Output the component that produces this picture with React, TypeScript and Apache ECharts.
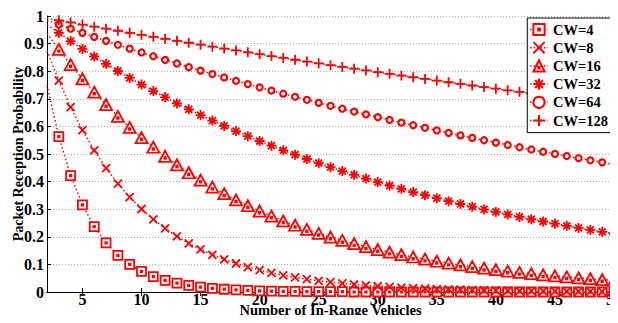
import React, { useEffect, useRef } from "react";
import * as echarts from "echarts";

const nValues: number[] = [];
for (let n = 2; n <= 50; n++) nValues.push(n);

const cw4 = [0.75, 0.563, 0.422, 0.316, 0.237, 0.178, 0.133, 0.1, 0.075, 0.056, 0.042, 0.032, 0.024, 0.018, 0.013, 0.01, 0.008, 0.006, 0.004, 0.003, 0.002, 0.002, 0.001, 0.001, 0.001, 0.001, 0, 0, 0, 0, 0, 0, 0, 0, 0, 0, 0, 0, 0, 0, 0, 0, 0, 0, 0, 0, 0, 0, 0];
const cw8 = [0.875, 0.7656, 0.6699, 0.5862, 0.5129, 0.4488, 0.3927, 0.3436, 0.3007, 0.2631, 0.2302, 0.2014, 0.1762, 0.1542, 0.1349, 0.1181, 0.1033, 0.0904, 0.0791, 0.0692, 0.0606, 0.053, 0.0464, 0.0406, 0.0355, 0.0311, 0.0272, 0.0238, 0.0208, 0.0182, 0.0159, 0.0139, 0.0122, 0.0107, 0.0093, 0.0082, 0.0072, 0.0063, 0.0055, 0.0048, 0.0042, 0.0037, 0.0032, 0.0028, 0.0025, 0.0021, 0.0019, 0.0016, 0.0014];
const cw16 = [0.9375, 0.8789, 0.824, 0.7725, 0.7242, 0.6789, 0.6365, 0.5967, 0.5594, 0.5245, 0.4917, 0.461, 0.4321, 0.4051, 0.3798, 0.3561, 0.3338, 0.313, 0.2934, 0.2751, 0.2579, 0.2418, 0.2266, 0.2125, 0.1992, 0.1867, 0.1751, 0.1641, 0.1539, 0.1443, 0.1352, 0.1268, 0.1189, 0.1114, 0.1045, 0.0979, 0.0918, 0.0861, 0.0807, 0.0757, 0.0709, 0.0665, 0.0623, 0.0584, 0.0548, 0.0514, 0.0482, 0.0451, 0.0423];
const cw32 = [0.9688, 0.9385, 0.9091, 0.8807, 0.8532, 0.8266, 0.8007, 0.7757, 0.7515, 0.728, 0.7053, 0.6832, 0.6619, 0.6412, 0.6212, 0.6018, 0.583, 0.5647, 0.5471, 0.53, 0.5134, 0.4974, 0.4819, 0.4668, 0.4522, 0.4381, 0.4244, 0.4111, 0.3983, 0.3858, 0.3738, 0.3621, 0.3508, 0.3398, 0.3292, 0.3189, 0.309, 0.2993, 0.29, 0.2809, 0.2721, 0.2636, 0.2554, 0.2474, 0.2397, 0.2322, 0.2249, 0.2179, 0.2111];
const cw64 = [0.9844, 0.969, 0.9539, 0.939, 0.9243, 0.9099, 0.8957, 0.8817, 0.8679, 0.8543, 0.841, 0.8279, 0.8149, 0.8022, 0.7897, 0.7774, 0.7652, 0.7533, 0.7415, 0.7299, 0.7185, 0.7073, 0.6963, 0.6854, 0.6747, 0.6641, 0.6538, 0.6436, 0.6335, 0.6236, 0.6139, 0.6043, 0.5949, 0.5856, 0.5764, 0.5674, 0.5586, 0.5498, 0.5413, 0.5328, 0.5245, 0.5163, 0.5082, 0.5003, 0.4925, 0.4848, 0.4772, 0.4698, 0.4623];
const cw128 = [0.9922, 0.9844, 0.9767, 0.9691, 0.9615, 0.954, 0.9466, 0.9392, 0.9318, 0.9246, 0.9173, 0.9102, 0.9031, 0.896, 0.889, 0.8821, 0.8752, 0.8683, 0.8616, 0.8548, 0.8482, 0.8415, 0.835, 0.8285, 0.822, 0.8156, 0.8092, 0.8029, 0.7966, 0.7904, 0.7842, 0.7781, 0.772, 0.766, 0.76, 0.7541, 0.7482, 0.7424, 0.7366, 0.7308, 0.7251, 0.7194, 0.7138, 0.7083, 0.7027, 0.6972, 0.6918, 0.6864, 0.681];

const seriesNames = ["CW=4", "CW=8", "CW=16", "CW=32", "CW=64", "CW=128"];
const xTicks = [5, 10, 15, 20, 25, 30, 35, 40, 45, 50];

const RED = "#ff0000";
const FONT = "Liberation Serif";

const markerDefs = [
  { symbol: "path://M0,0H10V10H0Z M4.2,4.2H5.8V5.8H4.2Z", size: 9, fill: "#ffffff" },
  { symbol: "path://M0,0L10,10M0,10L10,0", size: 8, fill: "none" },
  { symbol: "path://M5,0L10,9L0,9Z M4.4,5.2H5.6V6.6H4.4Z", size: [12, 11], fill: "#ffffff" },
  { symbol: "path://M5,0V10M0,5H10M1.5,1.5L8.5,8.5M1.5,8.5L8.5,1.5", size: 10, fill: "none" },
  { symbol: "circle", size: 6, fill: "#ffffff" },
  { symbol: "path://M5,0V10M0,5H10", size: 10, fill: "none" },
];

export default function App() {
  const ref = useRef<HTMLDivElement>(null);
  useEffect(() => {
    if (!ref.current) return;
    const chart = echarts.init(ref.current, null, { renderer: "svg" });
    const allData = [cw4, cw8, cw16, cw32, cw64, cw128];
    const series = allData.map((arr, i) => ({
      name: seriesNames[i],
      type: "line",
      data: arr.map((v, k) =>
        k === 0 ? { value: [nValues[k], v], symbol: "none" } : { value: [nValues[k], v] }
      ),
      symbol: markerDefs[i].symbol,
      symbolSize: markerDefs[i].size,
      showAllSymbol: true,
      clip: true,
      lineStyle: { color: RED, width: 1.5, type: [1.5, 2.5] },
      itemStyle: { color: markerDefs[i].fill, borderColor: RED, borderWidth: i === 4 ? 2.2 : 1.8 },
      emphasis: { disabled: true },
      z: 3,
    }));
    const axisFont = { fontFamily: FONT, fontWeight: "bold" as const, fontSize: 16, color: "#000" };
    chart.setOption({
      animation: false,
      backgroundColor: "#ffffff",
      grid: { left: 47, right: 4, top: 16, bottom: 31, containLabel: false, outerBoundsMode: "none" },
      legend: {
        right: 7,
        top: 18,
        orient: "vertical",
        backgroundColor: "#ffffff",
        borderColor: "#000",
        borderWidth: 1,
        padding: [4, 3, 4, 2],
        itemGap: 2.6,
        itemWidth: 18,
        itemHeight: 14,
        lineStyle: { type: [1.5, 2], width: 1.5 },
        textStyle: { fontFamily: FONT, fontWeight: "bold", fontSize: 14.5, color: "#000" },
        data: seriesNames,
        z: 10,
      },
      xAxis: [
        {
          type: "value",
          min: 2,
          max: 50,
          name: "Number of In-Range Vehicles",
          nameLocation: "middle",
          nameGap: 10,
          nameMoveOverlap: false,
          nameTextStyle: { fontFamily: FONT, fontWeight: "bold", fontSize: 14.5, color: "#000", verticalAlign: "top", lineHeight: 15 },
          axisLine: { show: true, lineStyle: { color: "#000", width: 1 } },
          axisTick: { show: true, inside: true, length: 4, customValues: xTicks, lineStyle: { color: "#000" } },
          axisLabel: { ...axisFont, margin: 0, lineHeight: 15, customValues: xTicks },
          splitLine: { show: false },
        },
        {
          type: "value",
          position: "top",
          min: 2,
          max: 50,
          axisLine: { show: true, lineStyle: { color: "#000", width: 1 } },
          axisTick: { show: true, inside: true, length: 4, customValues: xTicks, lineStyle: { color: "#000" } },
          axisLabel: { show: false },
          splitLine: { show: false },
        },
      ],
      yAxis: [
        {
          type: "value",
          min: 0,
          max: 1,
          interval: 0.1,
          name: "Packet Reception Probability",
          nameLocation: "middle",
          nameGap: 22,
          nameMoveOverlap: false,
          nameTextStyle: { fontFamily: FONT, fontWeight: "bold", fontSize: 14, color: "#000" },
          axisLine: { show: true, lineStyle: { color: "#000", width: 1 } },
          axisTick: { show: true, inside: true, length: 4, lineStyle: { color: "#000" } },
          axisLabel: { ...axisFont, margin: 3, formatter: (v: number) => String(Math.round(v * 10) / 10) },
          splitLine: { show: true, lineStyle: { color: "#b0b0b0", type: [1, 2], width: 1 } },
        },
        {
          type: "value",
          position: "right",
          min: 0,
          max: 1,
          interval: 0.1,
          axisLine: { show: true, lineStyle: { color: "#000", width: 1 } },
          axisTick: { show: true, inside: true, length: 4, lineStyle: { color: "#000" } },
          axisLabel: { show: false },
          splitLine: { show: false },
        },
      ],
      series,
    });
    return () => chart.dispose();
  }, []);
  return <div ref={ref} style={{ width: 618, height: 323, margin: -8 }} />;
}
